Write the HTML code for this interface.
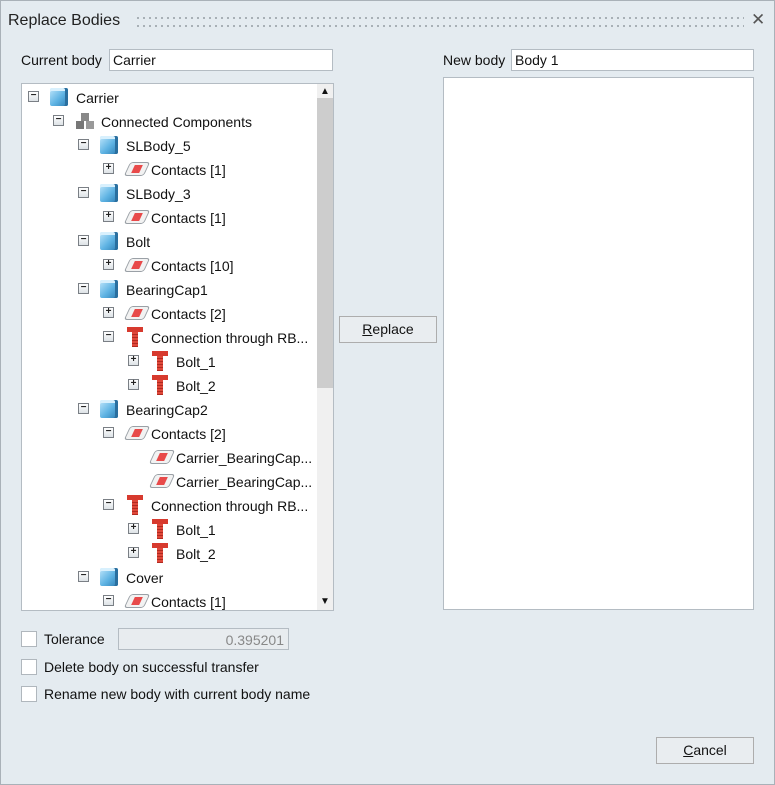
<!DOCTYPE html>
<html><head><style>
*{margin:0;padding:0;box-sizing:border-box}
body{width:775px;height:785px;background:#e4ebf0;font-family:"Liberation Sans",sans-serif;font-size:14px;color:#111;position:relative;overflow:hidden}
.win{position:absolute;left:0;top:0;width:775px;height:785px;border:1px solid #a9b1b8}
.a{position:absolute}
.inp{position:absolute;background:#fff;border:1px solid #b4bcc3;padding:2px 3px;font-size:14px;line-height:16px}
.tog{position:absolute;width:11px;height:11px;border:1px solid #7a7f85;background:linear-gradient(#fff,#dde2e6);font-size:10px;line-height:8px;text-align:center;font-weight:bold;color:#222}
.cube{position:absolute;width:18px;height:18px;border-radius:2px;background:linear-gradient(135deg,#bfe6fb,#5eb3e3 55%,#2f7fb5);box-shadow:inset -3px 0 0 #2a6f9f,inset 0 3px 0 #d8f0fd}
.gear{position:absolute;width:20px;height:18px}
.con{position:absolute;width:20px;height:14px;border:1px solid #9aa0a6;border-radius:3px;background:#f2f2f2;transform:skewX(-25deg)}
.con::after{content:"";position:absolute;left:5px;top:2px;width:8px;height:8px;background:#e84a4a}
.bolt{position:absolute;width:16px;height:20px}
.bolt::before{content:"";position:absolute;left:0;top:0;width:16px;height:5px;background:#d73a2e}
.bolt::after{content:"";position:absolute;left:5px;top:5px;width:6px;height:15px;background:repeating-linear-gradient(#e0483a 0 2px,#b02a20 2px 3px)}
.t{position:absolute;white-space:nowrap;line-height:16px}
.cb{position:absolute;width:16px;height:16px;background:#fff;border:1px solid #b0b7bd}
.btn{position:absolute;border:1px solid #adadad;background:#e9edf0;text-align:center;font-size:14px}
</style></head><body>
<div class="win"></div>
<div class="t" style="left:8px;top:13px;font-size:16px;color:#222">Replace Bodies</div>
<svg class="a" style="left:136px;top:15px" width="608" height="14">
<defs><pattern id="d" width="6" height="8" patternUnits="userSpaceOnUse"><rect x="1" y="2" width="2" height="2" fill="#a8b0b6"/></pattern></defs>
<rect width="608" height="14" fill="url(#d)"/></svg>
<div class="t" style="left:751px;top:12px;font-size:17px;color:#555">✕</div>

<div class="t" style="left:21px;top:52px">Current body</div>
<div class="inp" style="left:109px;top:49px;width:224px;height:22px">Carrier</div>
<div class="t" style="left:443px;top:52px">New body</div>
<div class="inp" style="left:511px;top:49px;width:243px;height:22px">Body 1</div>
<div class="a" style="left:443px;top:77px;width:311px;height:533px;background:#fff;border:1px solid #b4bcc3"></div>

<div class="a" style="left:21px;top:83px;width:313px;height:528px;background:#fff;border:1px solid #b4bcc3;overflow:hidden">
<div class="a" style="left:295px;top:0;width:16px;height:526px;background:#f0f0f0"></div>
<div class="a" style="left:295px;top:14px;width:16px;height:290px;background:#cdcdcd"></div>
<div class="t" style="left:298px;top:0;font-size:10px">▲</div>
<div class="t" style="left:298px;top:510px;font-size:10px">▼</div>
<div id="tree"></div>
</div>

<div class="btn" style="left:339px;top:316px;width:98px;height:27px;line-height:25px"><u>R</u>eplace</div>

<div class="cb" style="left:21px;top:631px"></div>
<div class="t" style="left:44px;top:631px">Tolerance</div>
<div class="a" style="left:118px;top:628px;width:171px;height:22px;border:1px solid #b4bcc3;background:#e8ecef;color:#888;text-align:right;padding:3px 4px;line-height:16px">0.395201</div>
<div class="cb" style="left:21px;top:659px"></div>
<div class="t" style="left:44px;top:659px">Delete body on successful transfer</div>
<div class="cb" style="left:21px;top:686px"></div>
<div class="t" style="left:44px;top:686px">Rename new body with current body name</div>
<div class="btn" style="left:656px;top:737px;width:98px;height:27px;line-height:25px"><u>C</u>ancel</div>

<script>
var rows=[[0,'-','cube','Carrier'],[1,'-','gear','Connected Components'],[2,'-','cube','SLBody_5'],[3,'+','con','Contacts [1]'],[2,'-','cube','SLBody_3'],[3,'+','con','Contacts [1]'],[2,'-','cube','Bolt'],[3,'+','con','Contacts [10]'],[2,'-','cube','BearingCap1'],[3,'+','con','Contacts [2]'],[3,'-','bolt','Connection through RB...'],[4,'+','bolt','Bolt_1'],[4,'+','bolt','Bolt_2'],[2,'-','cube','BearingCap2'],[3,'-','con','Contacts [2]'],[4,'','con','Carrier_BearingCap...'],[4,'','con','Carrier_BearingCap...'],[3,'-','bolt','Connection through RB...'],[4,'+','bolt','Bolt_1'],[4,'+','bolt','Bolt_2'],[2,'-','cube','Cover'],[3,'-','con','Contacts [1]']];
var h='';
rows.forEach(function(r,i){var cy=13+24*i,L=r[0];
if(r[1])h+='<div class="tog" style="left:'+(6+25*L)+'px;top:'+(cy-6)+'px">'+(r[1]=='-'?'−':'+')+'</div>';
var ix=28+25*L;
if(r[2]=='cube')h+='<div class="cube" style="left:'+ix+'px;top:'+(cy-9)+'px"></div>';
else if(r[2]=='con')h+='<div class="con" style="left:'+(ix+2)+'px;top:'+(cy-7)+'px"></div>';
else if(r[2]=='bolt')h+='<div class="bolt" style="left:'+(ix+2)+'px;top:'+(cy-10)+'px"></div>';
else h+='<svg class="gear" style="left:'+ix+'px;top:'+(cy-9)+'px" viewBox="0 0 20 18"><rect x="6" y="1" width="8" height="8" fill="#888"/><rect x="1" y="9" width="8" height="8" fill="#777"/><rect x="11" y="9" width="8" height="8" fill="#999"/></svg>';
h+='<div class="t" style="left:'+(54+25*L)+'px;top:'+(cy-7)+'px">'+r[3]+'</div>';});
document.getElementById('tree').innerHTML=h;
</script>
</body></html>
